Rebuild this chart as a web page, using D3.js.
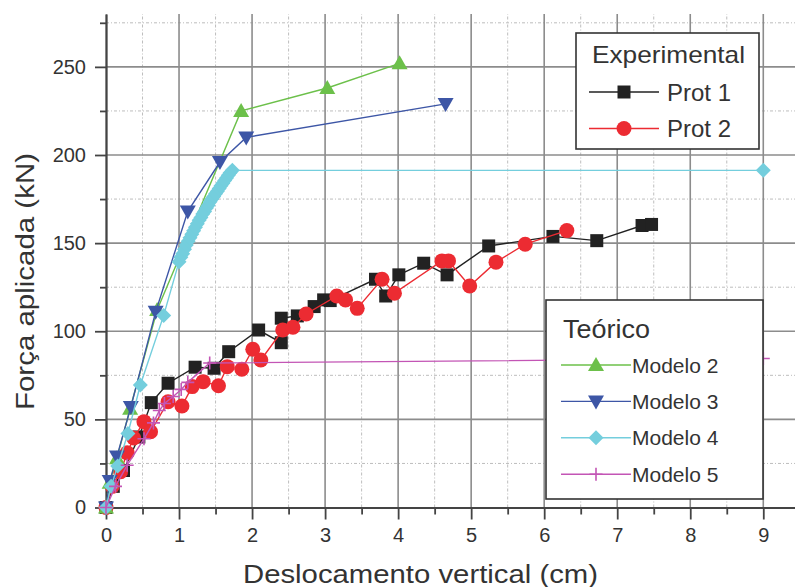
<!DOCTYPE html>
<html>
<head>
<meta charset="utf-8">
<script src="https://cdn.jsdelivr.net/npm/d3@7"></script>
<style>
  body { margin: 0; background: #fff; }
  text { font-family: "Liberation Sans", Arial, sans-serif; fill: #333; }
</style>
</head>
<body>
<div id="chart"></div>
<script>

// experimental data [deslocamento (cm), forca (kN)]
var prot1 = [[0,0],[0.1,12],[0.24,21],[0.45,40],[0.62,59.5],[0.85,70.5],[1.22,79.6],[1.48,79],
  [1.68,88.4],[2.09,100.7],[2.40,93.5],[2.40,107.4],[2.62,108.7],[2.85,114],[2.98,117.8],[3.07,117.4],
  [3.69,129.5],[3.83,120],[4.01,132],[4.35,138.6],[4.67,132],[5.24,148.4],[6.12,153.8],[6.72,151.4],
  [7.34,160],[7.47,160.6]];

var prot2 = [[0,0],[0.085,12],[0.2,20.3],[0.29,31],[0.38,39.4],[0.52,48.7],[0.61,43],[0.85,60],
  [1.04,57.6],[1.18,68.6],[1.33,71.4],[1.54,69.1],[1.66,79.9],[1.86,78.4],[2.01,89.8],[2.12,83.7],
  [2.42,100.7],[2.56,102.3],[2.74,109.8],[3.16,120],[3.28,117.8],[3.44,113],[3.78,129.5],[3.95,121.6],
  [4.6,139.9],[4.69,139.9],[4.98,125.7],[5.34,139.2],[5.74,149.4],[6.31,157.1]];

// theoretical models
var modelo2 = [[0,0],[0.05,14],[0.15,28],[0.33,56],[0.7,112],[1.85,225],[3.03,238],[4.02,252]];

var modelo3 = [[0,0],[0.05,15],[0.15,29],[0.34,57],[0.68,111],[1.12,168],[1.56,196],[1.92,210],[4.65,229]];

var modelo4 = [[0,0],[0.07,12],[0.16,23.5],[0.3,42],[0.47,69.5],[0.79,109],[1.0,139.5],
  [1.025,142],[1.05,144],[1.075,146.5],[1.1,149],[1.125,151],[1.15,153],[1.175,155],[1.2,157],
  [1.225,159],[1.25,161],[1.275,163],[1.3,164.5],[1.325,166.5],[1.35,168],[1.375,170],[1.4,171.5],
  [1.425,173.5],[1.45,175],[1.475,176.5],[1.5,178],[1.525,179.5],[1.55,181],[1.575,182.5],[1.6,184],
  [1.625,185.5],[1.65,187],[1.675,188.5],[1.7,190],[1.73,191.3],[9,191.3]];

var modelo5 = [[0,0],[0.13,12],[0.29,24],[0.52,39],[0.65,48],[0.73,55],[0.8,59],[0.92,63],
  [1.03,67],[1.12,71],[1.42,82],[9,84.5]];

// axis ticks
var xTicks = [0,1,2,3,4,5,6,7,8,9];
var xMinor = [0.5,1.5,2.5,3.5,4.5,5.5,6.5,7.5,8.5,9.5];
var yTicks = [0,50,100,150,200,250];
var yMinor = [25,75,125,175,225,275];

var expTitle = "Experimental", teoTitle = "Teórico";
var expNames = ["Prot 1","Prot 2"];
var teoNames = ["Modelo 2","Modelo 3","Modelo 4","Modelo 5"];

var W = 795, H = 587;
var svg = d3.select("#chart").append("svg")
  .attr("width", W).attr("height", H);

var x = d3.scaleLinear().domain([0, 9.5]).range([106, 799.8]);
var y = d3.scaleLinear().domain([0, 280]).range([507.5, 14]);

// grid
var grid = svg.append("g");
grid.selectAll(".vmin").data(xMinor).enter().append("line")
  .attr("x1", d => x(d)).attr("x2", d => x(d)).attr("y1", y(0)).attr("y2", y(280))
  .attr("stroke", "#bdbdbd").attr("stroke-width", 1).attr("stroke-dasharray", "3,2,1,2");
grid.selectAll(".hmin").data(yMinor).enter().append("line")
  .attr("x1", x(0)).attr("x2", x(9.5)).attr("y1", d => y(d)).attr("y2", d => y(d))
  .attr("stroke", "#bdbdbd").attr("stroke-width", 1).attr("stroke-dasharray", "3,2,1,2");
grid.selectAll(".vmaj").data(xTicks.slice(1)).enter().append("line")
  .attr("x1", d => x(d)).attr("x2", d => x(d)).attr("y1", y(0)).attr("y2", y(280))
  .attr("stroke", "#8c8c8c").attr("stroke-width", 1.6);
grid.selectAll(".hmaj").data(yTicks.slice(1)).enter().append("line")
  .attr("x1", x(0)).attr("x2", x(9.5)).attr("y1", d => y(d)).attr("y2", d => y(d))
  .attr("stroke", "#8c8c8c").attr("stroke-width", 1.6);

// axes
function styleAxis(g) {
  g.selectAll("path, line").attr("stroke", "#444").attr("stroke-width", 1.8);
  g.selectAll("text").attr("font-size", "20px").style("fill", "#333")
    .style("font-family", "'Liberation Sans', Arial, sans-serif");
}
svg.append("g").attr("transform", "translate(0," + y(0) + ")")
  .call(d3.axisBottom(x).tickValues(xMinor).tickSize(7).tickSizeOuter(0).tickFormat(""))
  .call(styleAxis);
svg.append("g").attr("transform", "translate(0," + y(0) + ")")
  .call(d3.axisBottom(x).tickValues(xTicks).tickSize(12).tickSizeOuter(0).tickPadding(8).tickFormat(d3.format("d")))
  .call(styleAxis);
svg.append("g").attr("transform", "translate(" + x(0) + ",0)")
  .call(d3.axisLeft(y).tickValues(yMinor).tickSize(6).tickSizeOuter(0).tickFormat(""))
  .call(styleAxis);
svg.append("g").attr("transform", "translate(" + x(0) + ",0)")
  .call(d3.axisLeft(y).tickValues(yTicks).tickSize(11).tickSizeOuter(0).tickPadding(9).tickFormat(d3.format("d")))
  .call(styleAxis);

svg.append("text").attr("x", 243).attr("y", 583)
  .attr("font-size", "25px").attr("textLength", 355).attr("lengthAdjust", "spacingAndGlyphs")
  .text("Deslocamento vertical (cm)");
svg.append("text").attr("transform", "translate(34,410) rotate(-90)")
  .attr("font-size", "25px").attr("textLength", 257).attr("lengthAdjust", "spacingAndGlyphs")
  .text("Força aplicada (kN)");

// markers
function marker(shape) {
  if (shape === "square") return "M-6.5,-6.5h13v13h-13z";
  if (shape === "circle") return "M-7.5,0a7.5,7.5 0 1,0 15,0a7.5,7.5 0 1,0 -15,0z";
  if (shape === "up") return "M0,-8L8,6L-8,6z";
  if (shape === "down") return "M0,8L8,-6L-8,-6z";
  if (shape === "diamond") return "M0,-7.5L7.5,0L0,7.5L-7.5,0z";
  return "M-6.5,0h13M0,-6.5v13";
}
function drawMarker(sel, shape, color) {
  sel.attr("d", marker(shape))
    .attr("fill", shape === "plus" ? "none" : color)
    .attr("stroke", shape === "plus" ? color : "none")
    .attr("stroke-width", 1.6);
}

var line = d3.line().x(d => x(d[0])).y(d => y(d[1]));

var series = [
  {data: prot1, color: "#222222", shape: "square"},
  {data: prot2, color: "#ec2b32", shape: "circle"},
  {data: modelo2, color: "#6cc04a", shape: "up"},
  {data: modelo3, color: "#3d56a6", shape: "down"},
  {data: modelo4, color: "#74cedd", shape: "diamond"},
  {data: modelo5, color: "#c355b5", shape: "plus"}
];

series.forEach(function(s) {
  var g = svg.append("g");
  g.append("path").datum(s.data).attr("d", line)
    .attr("fill", "none").attr("stroke", s.color).attr("stroke-width", 1.4);
  g.selectAll("path.m").data(s.data).enter().append("path").attr("class", "m")
    .attr("transform", d => "translate(" + x(d[0]) + "," + y(d[1]) + ")")
    .call(drawMarker, s.shape, s.color);
});

// legends
function legend(box, title, names, list, opts) {
  var g = svg.append("g");
  g.append("rect").attr("x", box[0]).attr("y", box[1]).attr("width", box[2]).attr("height", box[3])
    .attr("fill", "#fff").attr("stroke", "#333").attr("stroke-width", 1.6);
  g.append("text").attr("x", opts.tx).attr("y", opts.ty).attr("font-size", opts.tfs)
    .attr("textLength", opts.tlen).attr("lengthAdjust", "spacingAndGlyphs").text(title);
  names.forEach(function(n, i) {
    var cy = opts.y0 + i * opts.dy;
    g.append("line").attr("x1", opts.l1).attr("x2", opts.l2).attr("y1", cy).attr("y2", cy)
      .attr("stroke", list[i].color).attr("stroke-width", 1.4);
    g.append("path").attr("transform", "translate(" + opts.mx + "," + cy + ")")
      .call(drawMarker, list[i].shape, list[i].color);
    g.append("text").attr("x", opts.lx).attr("y", cy).attr("dy", "0.36em")
      .attr("font-size", opts.fs).text(n);
  });
}

legend([576, 33, 183, 116], expTitle, expNames, series.slice(0, 2),
  {tx: 592, ty: 63, tfs: "24px", tlen: 153, y0: 92, dy: 36.5, l1: 589, l2: 659, mx: 624, lx: 667, fs: "24px"});
legend([546, 300, 217, 199], teoTitle, teoNames, series.slice(2),
  {tx: 563, ty: 338, tfs: "25px", tlen: 87, y0: 365, dy: 36.4, l1: 561, l2: 631, mx: 596, lx: 632, fs: "21px"});

</script>
</body>
</html>
